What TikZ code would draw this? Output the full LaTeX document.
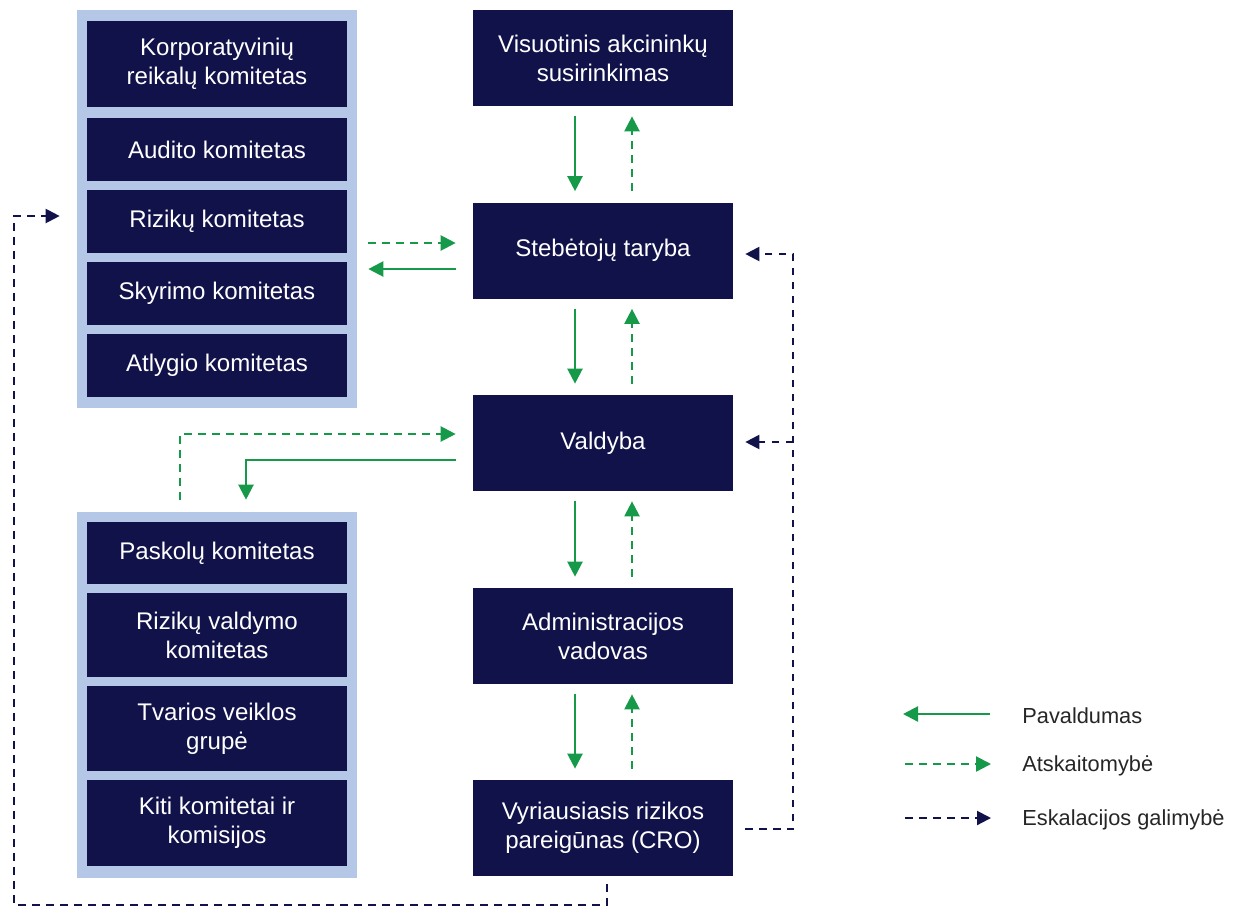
\documentclass[tikz,border=0pt]{standalone}
\usepackage{fontspec}
\setmainfont{Liberation Sans}
\usetikzlibrary{arrows.meta,calc}
\definecolor{navy}{RGB}{17,18,74}
\definecolor{grn}{RGB}{22,154,74}
\definecolor{lblue}{RGB}{180,199,231}
\tikzset{
  pbox/.style={fill=navy,text=white,align=center,inner sep=0pt,minimum width=5.2cm,
    font=\fontsize{13.7}{16.5}\selectfont},
  rbox/.style={pbox,minimum height=1.92cm},
  grp/.style={fill=lblue,inner sep=0pt,minimum width=5.6cm},
  sub/.style={grn,line width=1.3pt,-{Triangle[length=0.3cm,width=0.3cm]}},
  rep/.style={grn,line width=1.3pt,dash pattern=on 0.16cm off 0.12cm,-{Triangle[length=0.3cm,width=0.3cm]}},
  esc/.style={navy,line width=1.2pt,dash pattern=on 0.15cm off 0.13cm,-{Triangle[length=0.28cm,width=0.28cm]}},
  legtext/.style={anchor=west,inner sep=0pt,text=black!85,font=\fontsize{12.4}{15}\selectfont}
}
\begin{document}
\begin{tikzpicture}[x=0.02cm,y=-0.02cm]
 \useasboundingbox (0,0) rectangle (1236,907);
 % committee groups
 \node[grp,minimum height=7.96cm] (grpA) at (217,209) {};
 \node[grp,minimum height=7.32cm] (grpB) at (217,695) {};
 \node[pbox,minimum height=1.72cm] (korp) at (217,64) {Korporatyvinių\\reikalų komitetas};
 \node[pbox,minimum height=1.26cm] (aud) at (217,149.5) {Audito komitetas};
 \node[pbox,minimum height=1.26cm] (riz) at (217,221.5) {Rizikų komitetas};
 \node[pbox,minimum height=1.26cm] (sky) at (217,293.5) {Skyrimo komitetas};
 \node[pbox,minimum height=1.26cm] (atl) at (217,365.5) {Atlygio komitetas};
 \node[pbox,minimum height=1.24cm] (pask) at (217,553) {Paskolų komitetas};
 \node[pbox,minimum height=1.68cm] (rval) at (217,635) {Rizikų valdymo\\komitetas};
 \node[pbox,minimum height=1.70cm] (tvar) at (217,728.5) {Tvarios veiklos\\grupė};
 \node[pbox,minimum height=1.72cm] (kiti) at (217,823) {Kiti komitetai ir\\komisijos};
 % main chain
 \node[rbox] (vis) at (603,58) {Visuotinis akcininkų\\susirinkimas};
 \node[rbox] (stb) at (603,250.5) {Stebėtojų taryba};
 \node[rbox] (val) at (603,443) {Valdyba};
 \node[rbox] (adm) at (603,636) {Administracijos\\vadovas};
 \node[rbox] (cro) at (603,828) {Vyriausiasis rizikos\\pareigūnas (CRO)};
 \foreach \a/\b in {vis/stb,stb/val,val/adm,adm/cro}{
   \draw[sub] ($(\a.south)+(-28,10)$) -- ($(\b.north)+(-28,-11)$);
   \draw[rep] ($(\b.north)+(29,-11)$) -- ($(\a.south)+(29,10)$);
 }
 % board and committees
 \draw[rep] ($(grpA.east |- stb.west)+(11,-7.5)$) -- ($(stb.west)+(-17,-7.5)$);
 \draw[sub] ($(stb.west)+(-17,18.5)$) -- ($(grpA.east |- stb.west)+(11,18.5)$);
 \draw[rep] ($(grpB.north)+(-37,-12)$) |- ($(val.west)+(-17,-9)$);
 \draw[sub] ($(val.west)+(-17,17)$) -| ($(grpB.north)+(29,-12)$);
 % escalation
 \draw[esc] ($(cro.east)+(12,1)$) -- ++(48,0) |- ($(stb.east)+(12,3.5)$);
 \draw[esc] ($(val.east)+(60,-1)$) -- ($(val.east)+(12,-1)$);
 \coordinate (escL) at (14,905);
 \draw[esc] ($(cro.south)+(4,8)$) |- (escL) |- ($(grpA.west)+(-17,7)$);
 % legend
 \node[legtext] (lgA) at (1022,716) {Pavaldumas};
 \node[legtext] (lgB) at (1022,766) {Atskaitomybė};
 \node[legtext] (lgC) at (1022,820) {Eskalacijos galimybė};
 \draw[sub] ($(lgA.west)+(-32,-2)$) -- ++(-87,0);
 \draw[rep] ($(lgB.west)+(-117,-2)$) -- ++(86,0);
 \draw[esc] ($(lgC.west)+(-117,-2)$) -- ++(86,0);
\end{tikzpicture}
\end{document}
